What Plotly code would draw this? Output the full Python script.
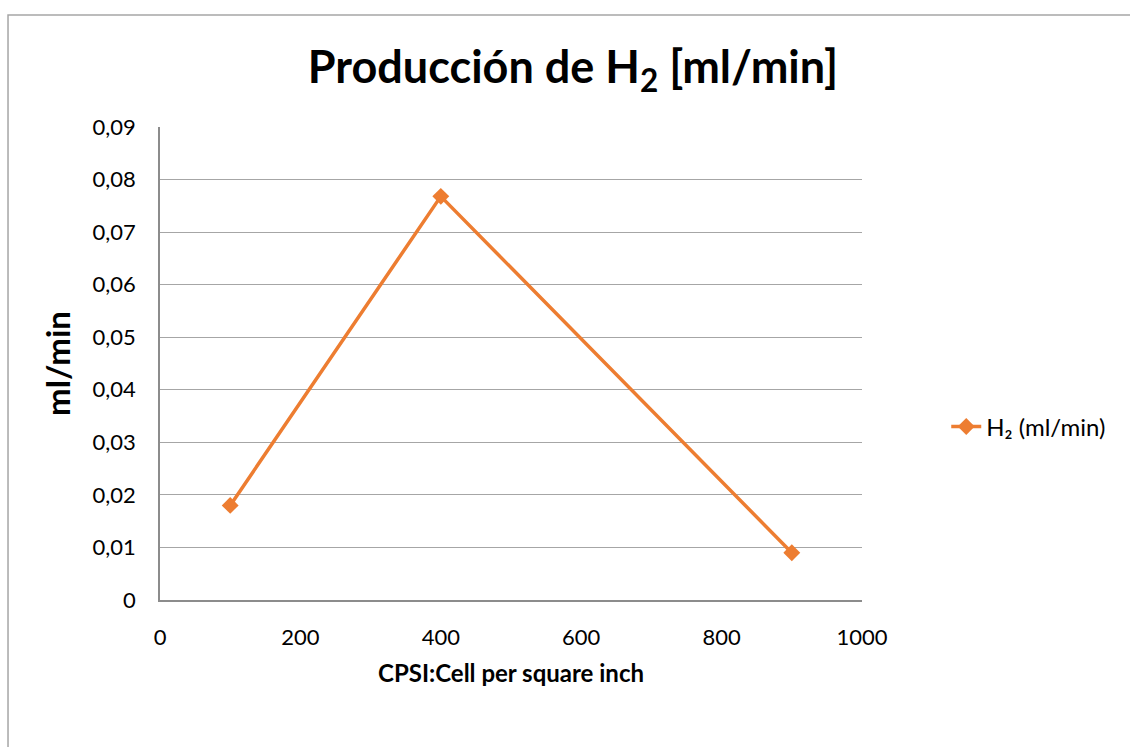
import plotly.graph_objects as go

cpsi = [100, 400, 900]
h2_ml_min = [0.018, 0.0768, 0.009]
series_name = "H₂ (ml/min)"
title_text = "Producción de H<sub>2</sub> [ml/min]"
x_title = "CPSI:Cell per square inch"
y_title = "ml/min"

FONT = "Lato"
ORANGE = "#ED7D31"

fig = go.Figure()
fig.add_trace(go.Scatter(
    x=cpsi, y=h2_ml_min, mode="lines+markers", name=series_name,
    line=dict(color=ORANGE, width=3.5),
    marker=dict(symbol="diamond", size=13, color=ORANGE),
))

fig.update_layout(
    width=1130, height=747,
    margin=dict(l=160, r=268, t=127, b=147),
    paper_bgcolor="white", plot_bgcolor="white",
    separators=",.",
    font=dict(family=FONT, size=22, color="black"),
    title=dict(text=title_text, x=0.507, xanchor="center", y=0.91, yanchor="middle",
               font=dict(family=FONT, size=45, color="black", weight="bold")),
    xaxis=dict(range=[0, 1000], dtick=200, showgrid=False, zeroline=False,
               showline=True, linecolor="#8c8c8c", linewidth=1.5,
               ticks="", ticklabelstandoff=17, tickfont=dict(size=22),
               title=dict(text=x_title, font=dict(family=FONT, size=24, weight="bold"), standoff=16)),
    yaxis=dict(range=[0, 0.09], dtick=0.01, showgrid=True, gridcolor="#a6a6a6", gridwidth=1.3,
               zeroline=False, showline=True, linecolor="#8c8c8c", linewidth=1.5,
               ticks="", ticklabelstandoff=18, tickfont=dict(size=22),
               title=dict(text=y_title, font=dict(family=FONT, size=33, weight="bold"), standoff=12)),
    legend=dict(x=1.12, y=0.366, xanchor="left", yanchor="middle",
                font=dict(family=FONT, size=24), bgcolor="rgba(0,0,0,0)"),
    showlegend=True,
)

fig.add_shape(type="rect", xref="paper", yref="paper",
              x0=-0.2165, x1=1.6, y0=-0.6, y1=1.2368,
              line=dict(color="#a6a6a6", width=1.5), layer="below")

fig.write_html("out.html")
